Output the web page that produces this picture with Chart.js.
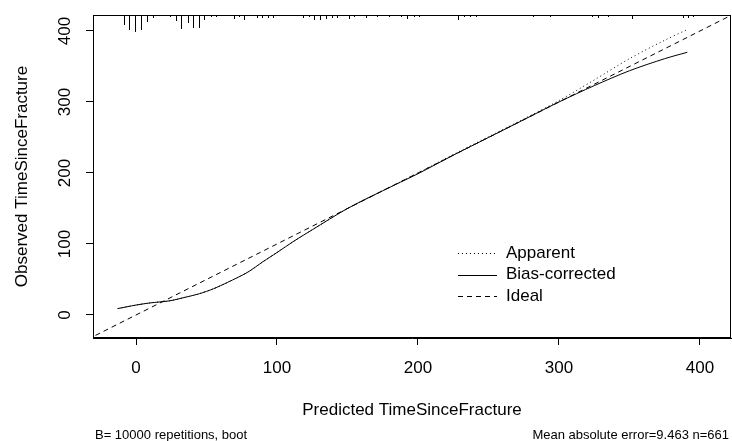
<!DOCTYPE html>
<html>
<head>
<meta charset="utf-8">
<script src="https://cdn.jsdelivr.net/npm/chart.js@4.4.1/dist/chart.umd.min.js"></script>
<style>
  html, body { margin: 0; padding: 0; background: #fff; }
</style>
</head>
<body>
<canvas id="calChart" width="732" height="441"></canvas>
<script>
// calibration curve
const predicted     = [-13, 0, 10, 24, 35, 45, 55, 65, 79, 90, 100, 112, 125, 150, 175, 200, 225, 250, 275, 300, 325, 350, 375, 391];
const apparent      = [9, 14, 17, 20, 25, 30, 37, 46, 60, 75, 88, 104, 120, 150, 175, 200, 226, 251, 276, 302, 331, 361, 387, 402];
const biasCorrected = [9, 14, 17, 20, 25, 30, 37, 46, 60, 75, 88, 104, 120, 150, 175, 199, 225, 250, 275, 300, 323, 344, 361, 370];
const idealLine     = [-40, 430];

const xTicks = [0, 100, 200, 300, 400];
const yTicks = [0, 100, 200, 300, 400];

// rug of predicted values along the top (relative frequency)
const rugX = [-8.5, -4.8, -0.7, 3.5, 8.0, 11.8, 24.1, 28.4, 31.9, 36.7, 40.6, 44.5, 48.2, 53.0, 56.7,
              69.5, 73.3, 76.8, 85.6, 89.6, 93.8, 97.4, 118.7, 122.5, 126.5, 130.5, 134.8, 138.8, 142.8,
              151.3, 154.8, 163.1, 171.1, 179.4, 187.7, 192.0, 197.2, 200.9, 228.6, 232.6, 236.9, 241.1,
              281.8, 293.6, 323.2, 327.9, 335.0, 351.6, 388.2, 391.7, 395.3];
const rugFreq = [10, 15, 17, 15, 7, 3, 2, 6, 14, 8, 13, 13, 5, 2, 2,
                 4, 2, 5, 3, 3, 3, 3, 3, 2, 5, 5, 4, 3, 3,
                 4, 2, 3, 2, 2, 2, 4, 2, 2, 5, 2, 2, 2,
                 2, 2, 2, 3, 2, 4, 3, 3, 2];

const legendLabels = ['Apparent', 'Bias-corrected', 'Ideal'];
const subLeft = 'B= 10000 repetitions, boot';
const subRight = 'Mean absolute error=9.463 n=661';

const FONT = '"Liberation Sans", Arial, sans-serif';
const dashes = [[1, 3], [], [5, 4]];

function pts(xs, ys) {
    return xs.map((x, i) => ({ x: x, y: ys[i] }));
}

const extras = {
    id: 'extras',
    afterDatasetsDraw(chart) {
        const { ctx, chartArea: a, scales: { x } } = chart;
        ctx.save();
        // box
        ctx.strokeStyle = '#000';
        ctx.lineWidth = 1;
        ctx.strokeRect(a.left + 0.5, a.top + 0.5, a.right - a.left - 1, a.bottom - a.top - 1);

        // rug
        ctx.beginPath();
        rugX.forEach((v, i) => {
            const px = Math.round(x.getPixelForValue(v)) + 0.5;
            ctx.moveTo(px, a.top);
            ctx.lineTo(px, a.top + rugFreq[i]);
        });
        ctx.stroke();

        // legend
        ctx.font = '17px ' + FONT;
        ctx.fillStyle = '#000';
        ctx.textBaseline = 'middle';
        legendLabels.forEach((lab, i) => {
            const y = a.top + 238 + i * 21.5;
            ctx.setLineDash(dashes[i]);
            ctx.beginPath();
            ctx.moveTo(a.left + 365, Math.round(y) + 0.5);
            ctx.lineTo(a.left + 404, Math.round(y) + 0.5);
            ctx.stroke();
            ctx.fillText(lab, a.left + 413, y);
        });
        ctx.setLineDash([]);

        // sub titles
        ctx.font = '13px ' + FONT;
        ctx.textAlign = 'left';
        ctx.fillText(subLeft, a.left + 2, 435);
        ctx.textAlign = 'right';
        ctx.fillText(subRight, a.right - 2, 435);
        ctx.restore();
    }
};

new Chart(document.getElementById('calChart'), {
    type: 'scatter',
    data: {
        datasets: [
            { label: legendLabels[0], data: pts(predicted, apparent), borderDash: dashes[0] },
            { label: legendLabels[1], data: pts(predicted, biasCorrected), borderDash: dashes[1] },
            { label: legendLabels[2], data: pts(idealLine, idealLine), borderDash: dashes[2] }
        ].map(d => Object.assign(d, {
            showLine: true,
            borderColor: '#000',
            borderWidth: 1,
            pointRadius: 0,
            tension: 0.3
        }))
    },
    options: {
        responsive: false,
        animation: false,
        devicePixelRatio: 1,
        layout: { padding: { top: 15, right: 1, left: 0, bottom: 0 } },
        plugins: {
            legend: { display: false },
            tooltip: { enabled: false }
        },
        scales: {
            x: {
                type: 'linear',
                min: -30.5,
                max: 422,
                afterBuildTicks: s => { s.ticks = xTicks.map(v => ({ value: v })); },
                afterFit: s => { s.height = 103; s.paddingLeft = 0; s.paddingRight = 0; },
                grid: { drawOnChartArea: false, drawTicks: true, tickLength: 7, color: '#000' },
                border: { display: true, color: '#000' },
                ticks: { color: '#000', font: { family: FONT, size: 17 }, padding: 13, maxRotation: 0 },
                title: {
                    display: true, text: 'Predicted TimeSinceFracture', color: '#000',
                    font: { family: FONT, size: 17 }, padding: { top: 0, bottom: 20 }
                }
            },
            y: {
                type: 'linear',
                min: -32.4,
                max: 422.5,
                afterBuildTicks: s => { s.ticks = yTicks.map(v => ({ value: v })); },
                afterFit: s => { s.width = 93; s.paddingTop = 0; s.paddingBottom = 0; },
                grid: { drawOnChartArea: false, drawTicks: true, tickLength: 7, color: '#000' },
                border: { display: true, color: '#000' },
                ticks: {
                    color: '#000', font: { family: FONT, size: 17 }, padding: 7,
                    minRotation: 90, maxRotation: 90, crossAlign: 'center'
                },
                title: {
                    display: true, text: 'Observed TimeSinceFracture', color: '#000',
                    font: { family: FONT, size: 17 }, padding: { top: 12, bottom: 0 }
                }
            }
        }
    },
    plugins: [extras]
});
</script>
</body>
</html>
